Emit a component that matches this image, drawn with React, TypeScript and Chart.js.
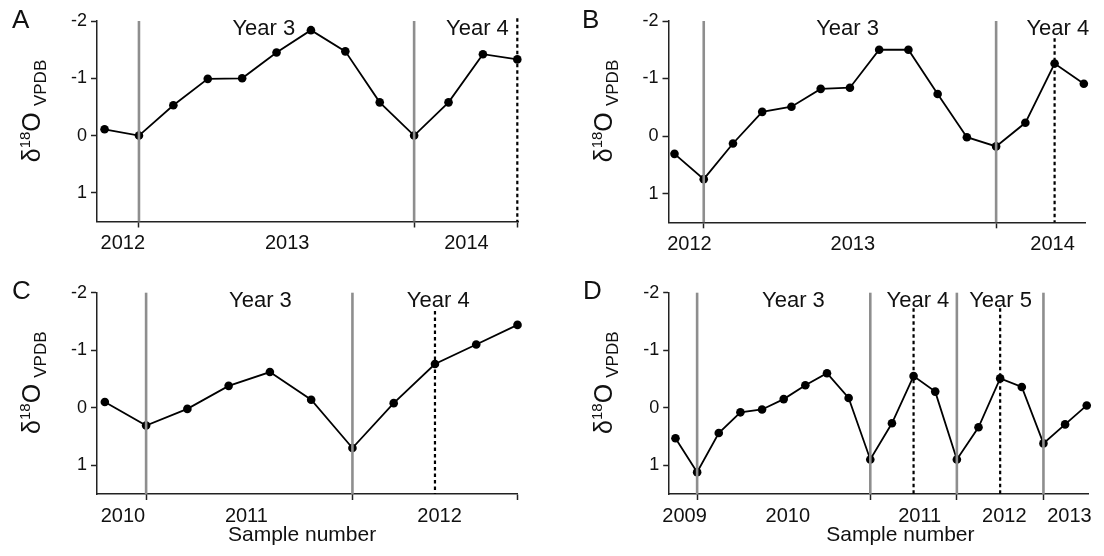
import React, { useEffect, useRef } from "react";
import { Chart, registerables } from "chart.js";

Chart.register(...registerables);

const FONT = "'Liberation Sans', Arial, Helvetica, sans-serif";

// ---- shared axis values ----
const yTicks = [-2, -1, 0, 1];
const yMin = -2;
const yMax = 1.5;

// ---- Panel A ----
const valuesA = [-0.11, 0.0, -0.53, -0.99, -1.0, -1.45, -1.84, -1.47, -0.58, 0.0, -0.58, -1.42, -1.33];
const xRangeA = [0.78, 13.02];
const yearLabelsA = ["2012", "2013", "2014"];
const yearPosA = [1.53, 6.31, 11.52];
const seasonLabelsA = ["Year 3", "Year 4"];
const seasonPosA = [5.63, 11.84];
const boundariesA = [2, 10];
const dottedA = [13];
const dottedTopA = -2.05;
const tickMarksA = [2, 10, 13];

// ---- Panel B ----
const valuesB = [0.31, 0.75, 0.13, -0.42, -0.51, -0.82, -0.84, -1.5, -1.5, -0.73, 0.02, 0.18, -0.23, -1.26, -0.91];
const xRangeB = [0.795, 15.05];
const yearLabelsB = ["2012", "2013", "2014"];
const yearPosB = [1.51, 7.1, 13.93];
const seasonLabelsB = ["Year 3", "Year 4"];
const seasonPosB = [6.92, 14.11];
const boundariesB = [2, 12];
const dottedB = [14];
const dottedTopB = -1.7;
const tickMarksB = [2, 12];

// ---- Panel C ----
const valuesC = [-0.1, 0.31, 0.02, -0.38, -0.62, -0.14, 0.7, -0.08, -0.76, -1.1, -1.44];
const xRangeC = [0.81, 11];
const yearLabelsC = ["2010", "2011", "2012"];
const yearPosC = [1.44, 4.43, 9.11];
const seasonLabelsC = ["Year 3", "Year 4"];
const seasonPosC = [4.77, 9.08];
const boundariesC = [2, 7];
const dottedC = [9];
const dottedTopC = -1.68;
const tickMarksC = [2, 7, 11];
const xTitlePosC = 5.78;

// ---- Panel D ----
const valuesD = [0.53, 1.12, 0.44, 0.08, 0.03, -0.15, -0.39, -0.6, -0.17, 0.9, 0.27, -0.55, -0.28, 0.9, 0.34, -0.51, -0.36, 0.62, 0.29, -0.04];
const xRangeD = [0.71, 20.1];
const yearLabelsD = ["2009", "2010", "2011", "2012", "2013"];
const yearPosD = [1.42, 6.19, 12.28, 16.19, 19.2];
const seasonLabelsD = ["Year 3", "Year 4", "Year 5"];
const seasonPosD = [6.45, 12.2, 16.02];
const boundariesD = [2, 10, 14, 18];
const dottedD = [12, 16];
const dottedTopD = -1.73;
const tickMarksD = [2, 10, 14, 18];
const xTitlePosD = 11.39;

const xTitle = "Sample number";

type PanelCfg = {
  letter: string;
  values: number[];
  xRange: number[];
  yearLabels: string[];
  yearPos: number[];
  seasonLabels: string[];
  seasonPos: number[];
  boundaries: number[];
  dotted: number[];
  dottedTop: number;
  tickMarks: number[];
  xTitlePos?: number;
  // layout (pixels inside the 552x278 panel)
  ox: number;
  oy: number;
  left: number;
  right: number;
  top: number;
  bottom: number;
  letterX: number;
};

const W = 552;
const H = 278;

const panels: PanelCfg[] = [
  {
    letter: "A", values: valuesA, xRange: xRangeA, yearLabels: yearLabelsA, yearPos: yearPosA,
    seasonLabels: seasonLabelsA, seasonPos: seasonPosA, boundaries: boundariesA, dotted: dottedA,
    dottedTop: dottedTopA, tickMarks: tickMarksA,
    ox: 0, oy: 0, left: 97, right: 518, top: 21, bottom: 221.5, letterX: 12,
  },
  {
    letter: "B", values: valuesB, xRange: xRangeB, yearLabels: yearLabelsB, yearPos: yearPosB,
    seasonLabels: seasonLabelsB, seasonPos: seasonPosB, boundaries: boundariesB, dotted: dottedB,
    dottedTop: dottedTopB, tickMarks: tickMarksB,
    ox: 552, oy: 0, left: 116.5, right: 533.3, top: 21, bottom: 222.3, letterX: 30,
  },
  {
    letter: "C", values: valuesC, xRange: xRangeC, yearLabels: yearLabelsC, yearPos: yearPosC,
    seasonLabels: seasonLabelsC, seasonPos: seasonPosC, boundaries: boundariesC, dotted: dottedC,
    dottedTop: dottedTopC, tickMarks: tickMarksC, xTitlePos: xTitlePosC,
    ox: 0, oy: 278, left: 97, right: 517.5, top: 14.7, bottom: 216, letterX: 12,
  },
  {
    letter: "D", values: valuesD, xRange: xRangeD, yearLabels: yearLabelsD, yearPos: yearPosD,
    seasonLabels: seasonLabelsD, seasonPos: seasonPosD, boundaries: boundariesD, dotted: dottedD,
    dottedTop: dottedTopD, tickMarks: tickMarksD, xTitlePos: xTitlePosD,
    ox: 552, oy: 278, left: 117.2, right: 536.9, top: 14.7, bottom: 216, letterX: 31,
  },
];

function Panel({ cfg }: { cfg: PanelCfg }) {
  const ref = useRef<HTMLCanvasElement>(null);

  useEffect(() => {
    const canvas = ref.current;
    if (!canvas) return;

    const annot = {
      id: "annot" + cfg.letter,
      afterDatasetsDraw(chart: any) {
        const { ctx, chartArea } = chart;
        const x = chart.scales.x;
        const y = chart.scales.y;
        ctx.save();
        // grey year boundaries (drawn over the markers)
        ctx.strokeStyle = "#8e8e8e";
        ctx.lineWidth = 2.6;
        ctx.setLineDash([]);
        for (const b of cfg.boundaries) {
          const px = x.getPixelForValue(b);
          ctx.beginPath();
          ctx.moveTo(px, chartArea.top);
          ctx.lineTo(px, chartArea.bottom);
          ctx.stroke();
        }
        // dotted lines
        ctx.strokeStyle = "#000";
        ctx.lineWidth = 2.2;
        ctx.setLineDash([3.5, 3]);
        for (const d of cfg.dotted) {
          const px = x.getPixelForValue(d);
          ctx.beginPath();
          ctx.moveTo(px, y.getPixelForValue(cfg.dottedTop));
          ctx.lineTo(px, chartArea.bottom);
          ctx.stroke();
        }
        ctx.restore();
      },
      afterDraw(chart: any) {
        const { ctx, chartArea } = chart;
        const x = chart.scales.x;
        ctx.save();
        ctx.fillStyle = "#111";
        ctx.textBaseline = "alphabetic";

        // panel letter
        ctx.font = `26px ${FONT}`;
        ctx.textAlign = "left";
        ctx.fillText(cfg.letter, cfg.letterX, chartArea.top + 6.5);

        // season labels
        ctx.font = `22px ${FONT}`;
        ctx.textAlign = "center";
        cfg.seasonLabels.forEach((s, i) => {
          ctx.fillText(s, x.getPixelForValue(cfg.seasonPos[i]), chartArea.top + 14);
        });

        // x title
        if (cfg.xTitlePos !== undefined) {
          ctx.font = `21px ${FONT}`;
          ctx.textAlign = "center";
          ctx.fillText(xTitle, x.getPixelForValue(cfg.xTitlePos), 263);
        }

        // y title: δ18O VPDB (rotated)
        const pieces = [
          { t: "δ", size: 25, dy: 0 },
          { t: "18", size: 15, dy: -10 },
          { t: "O", size: 25, dy: 0 },
          { t: " ", size: 22, dy: 0 },
          { t: "VPDB", size: 17, dy: 6 },
        ];
        let total = 0;
        const widths = pieces.map((p) => {
          ctx.font = `${p.size}px ${FONT}`;
          const w = ctx.measureText(p.t).width;
          total += w;
          return w;
        });
        ctx.translate(chartArea.left - 57, chartArea.top + 90);
        ctx.rotate(-Math.PI / 2);
        ctx.textAlign = "left";
        let cx = -total / 2;
        pieces.forEach((p, i) => {
          ctx.font = `${p.size}px ${FONT}`;
          ctx.fillText(p.t, cx, p.dy);
          cx += widths[i];
        });
        ctx.restore();
      },
    };

    const tickSet = new Set([...cfg.tickMarks, ...cfg.yearPos]);
    const xTickValues = Array.from(tickSet).sort((a, b) => a - b);

    const chart = new Chart(canvas, {
      type: "line",
      data: {
        datasets: [
          {
            data: cfg.values.map((v, i) => ({ x: i + 1, y: v })),
            borderColor: "#000",
            borderWidth: 1.8,
            pointRadius: 4.3,
            pointHoverRadius: 4.3,
            pointBackgroundColor: "#000",
            pointBorderColor: "#000",
            pointBorderWidth: 0,
            tension: 0,
            clip: false,
          } as any,
        ],
      },
      options: {
        animation: false,
        responsive: false,
        maintainAspectRatio: false,
        events: [],
        layout: { padding: { left: 0, top: cfg.top, right: W - cfg.right, bottom: 0 } },
        plugins: { legend: { display: false }, tooltip: { enabled: false }, title: { display: false } },
        scales: {
          x: {
            type: "linear",
            bounds: "data",
            min: cfg.xRange[0],
            max: cfg.xRange[1],
            afterBuildTicks: (s: any) => {
              s.ticks = xTickValues.map((v) => ({ value: v }));
            },
            afterFit: (s: any) => {
              s.height = H - cfg.bottom;
              s.paddingLeft = 0;
              s.paddingRight = 0;
            },
            ticks: {
              autoSkip: false,
              maxRotation: 0,
              minRotation: 0,
              padding: 4,
              color: "#111",
              font: { size: 20, family: FONT },
              callback: (value: any) => {
                const i = cfg.yearPos.indexOf(Number(value));
                return i >= 0 ? cfg.yearLabels[i] : "";
              },
            },
            grid: {
              drawOnChartArea: false,
              drawTicks: true,
              tickLength: 6,
              tickWidth: 1.5,
              tickColor: (ctx: any) =>
                ctx.tick && cfg.tickMarks.includes(ctx.tick.value) ? "#222" : "rgba(0,0,0,0)",
            },
            border: { display: true, color: "#222", width: 1.5 },
          } as any,
          y: {
            type: "linear",
            bounds: "data",
            reverse: true,
            min: yMin,
            max: yMax,
            afterBuildTicks: (s: any) => {
              s.ticks = yTicks.map((v) => ({ value: v }));
            },
            afterFit: (s: any) => {
              s.width = cfg.left;
              s.paddingTop = 0;
              s.paddingBottom = 0;
            },
            ticks: {
              padding: 4,
              color: "#111",
              font: { size: 18, family: FONT },
              callback: (v: any) => String(v),
            },
            grid: {
              drawOnChartArea: false,
              drawTicks: true,
              tickLength: 6,
              tickWidth: 1.5,
              tickColor: "#222",
            },
            border: { display: true, color: "#222", width: 1.5 },
          } as any,
        },
      },
      plugins: [annot as any],
    });

    return () => chart.destroy();
  }, [cfg]);

  return (
    <canvas
      ref={ref}
      width={W}
      height={H}
      style={{ position: "absolute", left: cfg.ox, top: cfg.oy, width: W, height: H }}
    />
  );
}

export default function App() {
  return (
    <div
      style={{
        position: "absolute",
        left: 0,
        top: 0,
        width: 1104,
        height: 556,
        background: "#fff",
        overflow: "hidden",
      }}
    >
      {panels.map((p) => (
        <Panel key={p.letter} cfg={p} />
      ))}
    </div>
  );
}
